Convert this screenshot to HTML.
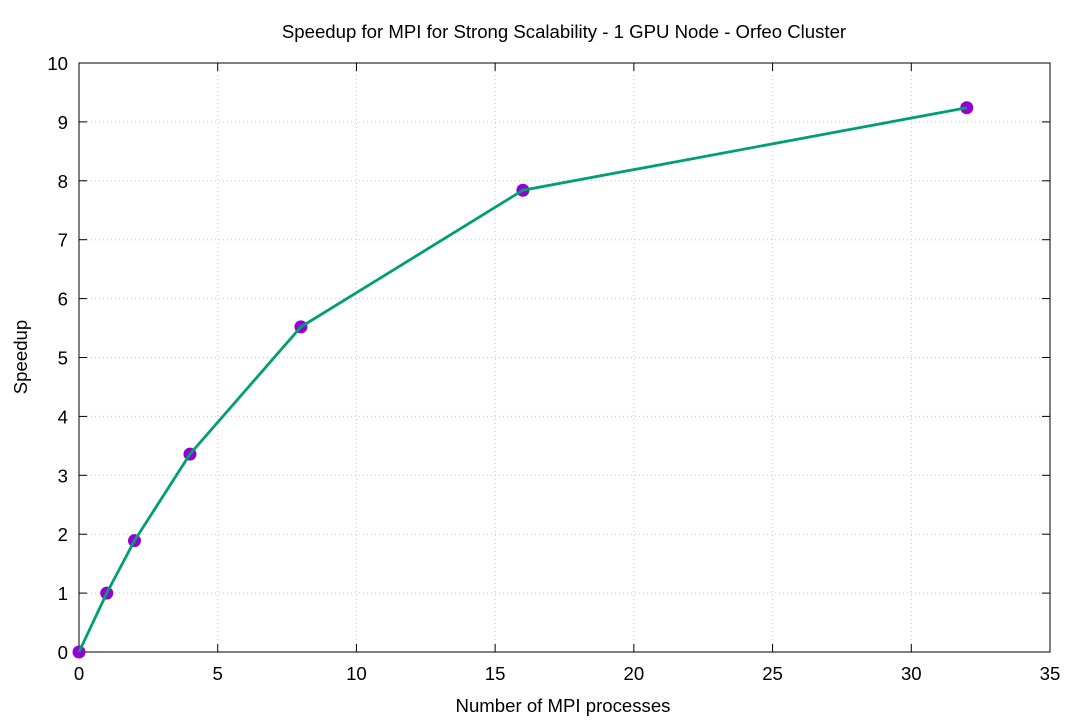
<!DOCTYPE html>
<html><head><meta charset="utf-8"><style>
body{margin:0;background:#fff;}
svg{display:block;font-family:"Liberation Sans",Arial,sans-serif;}
</style></head><body>
<svg id="chart" width="1080" height="720">
<text x="564" y="38" text-anchor="middle" font-size="18.6">Speedup for MPI for Strong Scalability - 1 GPU Node - Orfeo Cluster</text>
<text x="563" y="712" text-anchor="middle" font-size="18.6">Number of MPI processes</text>
<text transform="translate(27,357) rotate(-90)" text-anchor="middle" font-size="18.6">Speedup</text>
<g id="grid"></g><g id="axes"></g><g id="series"></g>
</svg>
<script>
const xValues=[0,1,2,4,8,16,32];
const yValues=[0,1,1.89,3.36,5.52,7.84,9.24];
const xTicks=[0,5,10,15,20,25,30,35];
const yTicks=[0,1,2,3,4,5,6,7,8,9,10];
const L=79,R=1050,T=63,B=652;
const sx=v=>L+(v/35)*(R-L), sy=v=>B-(v/10)*(B-T);
const NS="http://www.w3.org/2000/svg";
function mk(tag,a,parent){const e=document.createElementNS(NS,tag);for(const k in a)e.setAttribute(k,a[k]);document.getElementById(parent).appendChild(e);return e;}
xTicks.forEach(t=>{const x=sx(t);
 if(t>0&&t<35){const g=mk('line',{x1:x,x2:x,y1:T,y2:B,stroke:'#c8c8c8','stroke-dasharray':'1,3'},'grid');
 
 }
 const a=mk('line',{x1:x,x2:x,y1:B,y2:B-8,stroke:'#000'},'axes');
 const b=mk('line',{x1:x,x2:x,y1:T,y2:T+8,stroke:'#000'},'axes');
 const l=mk('text',{x:x,y:B+28,'text-anchor':'middle','font-size':'18.6'},'axes');l.textContent=t;
 
 });
yTicks.forEach(t=>{const y=sy(t);
 if(t>0&&t<10){const g=mk('line',{x1:L,x2:R,y1:y,y2:y,stroke:'#c8c8c8','stroke-dasharray':'1,3'},'grid');
 
 }
 const a=mk('line',{x1:L,x2:L+8,y1:y,y2:y,stroke:'#000'},'axes');
 const b=mk('line',{x1:R,x2:R-8,y1:y,y2:y,stroke:'#000'},'axes');
 const l=mk('text',{x:L-11,y:y+7,'text-anchor':'end','font-size':'18.6'},'axes');l.textContent=t;
 
 });
const f=mk('rect',{x:L,y:T,width:R-L,height:B-T,fill:'none',stroke:'#000','stroke-width':1},'axes');


xValues.forEach((v,i)=>{const c=mk('circle',{cx:sx(v),cy:sy(yValues[i]),r:6.5,fill:'#9400d3'},'series');
 
 });
const pl=mk('polyline',{points:xValues.map((v,i)=>sx(v)+','+sy(yValues[i])).join(' '),fill:'none',stroke:'#009e73','stroke-width':2.8},'series');


</script>
</body></html>
